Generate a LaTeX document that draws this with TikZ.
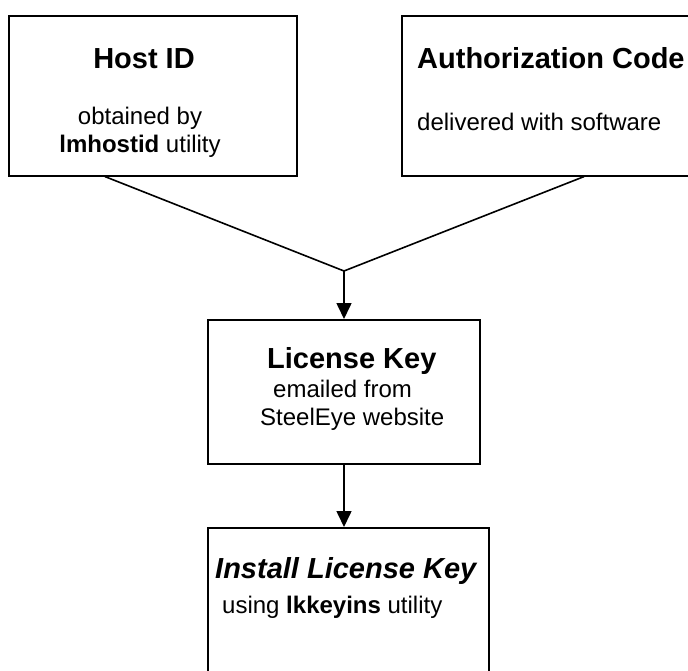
\documentclass[tikz,border=0pt]{standalone}
\usepackage{fontspec}
\setmainfont{Liberation Sans}
\usetikzlibrary{arrows.meta,calc}
\begin{document}
\begin{tikzpicture}[x=1pt,y=-1pt,
  box/.style={draw=black,line width=1.6pt,rectangle,anchor=north west,inner sep=0pt},
  ttl/.style={anchor=base west,inner sep=0pt,font=\fontsize{29}{33}\selectfont\bfseries},
  txt/.style={anchor=base west,inner sep=0pt,font=\fontsize{24}{28}\selectfont},
  conn/.style={line width=1.6pt,black},
  arr/.style={conn,-{Triangle[length=16pt,width=15pt]}}]
\useasboundingbox (0,0) rectangle (688,671);
\fill[white] (0,0) rectangle (688,671);
\clip (0,0) rectangle (688,671);
% boxes
\node[box,minimum width=288pt,minimum height=160pt] (host) at (8,15) {};
\node[box,minimum width=300pt,minimum height=160pt] (auth) at (401,15) {};
\node[box,minimum width=272pt,minimum height=144pt] (lic) at (207,319) {};
\node[box,minimum width=281pt,minimum height=170pt] (inst) at (207,527) {};
% texts
\node[ttl,anchor=base] (t1) at (144,69) {Host ID};
\node[txt,anchor=base] (t1a) at (140,125) {obtained by};
\node[txt,anchor=base] (t1b) at (140,153) {\textbf{lmhostid} utility};
\node[ttl] (t2) at (417,69) {Authorization Code};
\node[txt] (t2a) at (417,131) {delivered with software};
\node[ttl] (t3) at (267,368) {License Key};
\node[txt] (t3a) at (273,397) {emailed from};
\node[txt] (t3b) at (260,425) {SteelEye website};
\node[ttl,font=\fontsize{29}{33}\selectfont\bfseries\itshape] (t4) at (215,578) {Install License Key};
\node[txt] (t4a) at (222,613) {using \textbf{lkkeyins} utility};
% connectors
\coordinate (j) at (344,271);
\coordinate (hs) at ($(host.south west)+(97,0)$);
\coordinate (as) at ($(auth.south west)+(183,0)$);
\draw[conn] (hs) -- (j) -- (as);
\draw[arr] (j) -- (j |- lic.north);
\draw[arr] (lic.south -| j) -- (j |- inst.north);
\end{tikzpicture}
\end{document}
